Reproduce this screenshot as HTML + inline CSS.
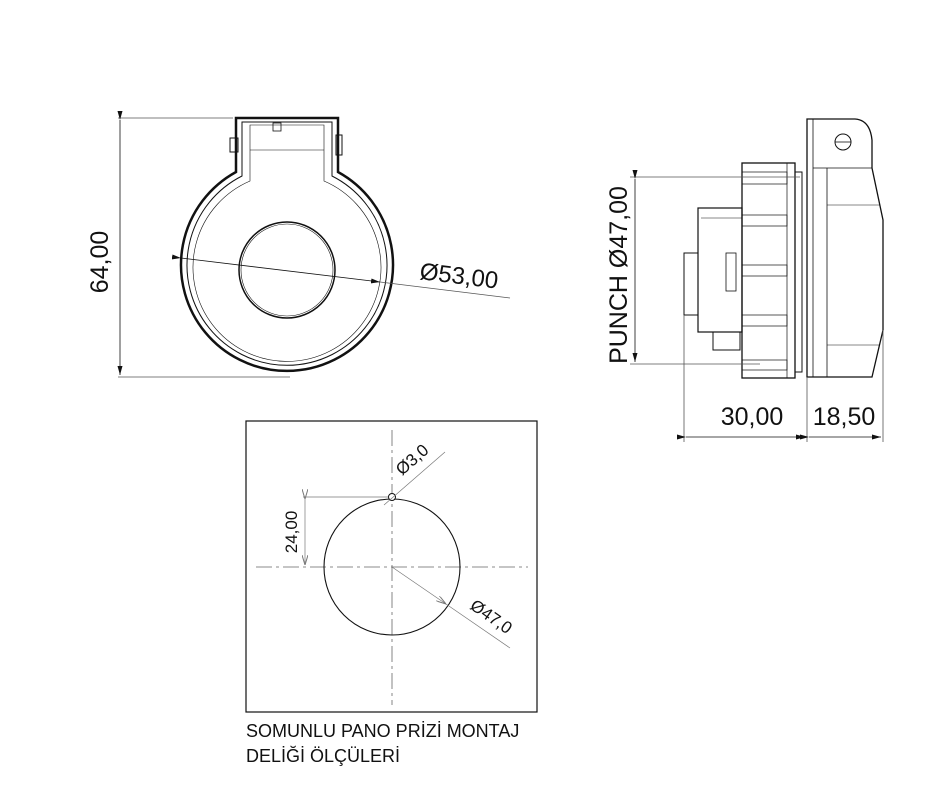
<!DOCTYPE html>
<html><head><meta charset="utf-8"><style>
html,body{margin:0;padding:0;background:#fff;}
svg{display:block;}
text{font-family:"Liberation Sans",sans-serif;fill:#111;}
</style></head><body>
<svg width="940" height="800" viewBox="0 0 940 800" xmlns="http://www.w3.org/2000/svg">
<defs>
<marker id="a" markerWidth="9" markerHeight="5" refX="9" refY="2.5" orient="auto" markerUnits="userSpaceOnUse"><path d="M0,0 L9,2.5 L0,5 Z" fill="#111"/></marker>
<marker id="ag" markerWidth="10" markerHeight="6" refX="10" refY="3" orient="auto" markerUnits="userSpaceOnUse"><path d="M0,0 L10,3 L0,6" fill="none" stroke="#777"/></marker>
</defs>
<g fill="none" stroke="#111">
<line x1="118" y1="118" x2="233" y2="118" stroke="#555" stroke-width="0.8"/>
<line x1="118" y1="377" x2="290" y2="377" stroke="#555" stroke-width="0.8"/>
<line x1="120" y1="120" x2="120" y2="375" stroke-width="0.8" marker-start="url(#a)" marker-end="url(#a)"/>
<path d="M236,172 L236,118 L338,118 L338,172 A106,106 0 1 1 236,172 Z" stroke-width="2.5"/>
<path d="M242,176 L242,122 L332,122 L332,176 A100,100 0 1 1 242,176 Z" stroke-width="1"/>
<path d="M250,181 L250,125 L324,125 L324,181 A94,94 0 1 1 250,181 Z" stroke-width="0.6"/>
<line x1="250" y1="150" x2="324" y2="150" stroke-width="0.6"/>
<rect x="230" y="138" width="8" height="14" stroke-width="1"/>
<rect x="336" y="135" width="6" height="20" stroke-width="1"/>
<rect x="273" y="123" width="8" height="8" stroke-width="0.8"/>
<circle cx="287" cy="270" r="48" stroke-width="1.5"/>
<circle cx="287" cy="270" r="46" stroke-width="0.6"/>
<line x1="181" y1="258" x2="380" y2="282" stroke-width="0.8" marker-start="url(#a)" marker-end="url(#a)"/>
<line x1="380" y1="282" x2="510" y2="298" stroke="#555" stroke-width="0.8"/>
<path d="M807,119 L855,119 Q870,120 872,140 L872,168 L883,220 L883,330 L872,377 L807,377 Z" stroke-width="1.3"/>
<line x1="813" y1="119" x2="813" y2="377" stroke-width="0.8"/>
<line x1="827" y1="168" x2="827" y2="377" stroke-width="0.8"/>
<line x1="813" y1="168" x2="872" y2="168" stroke-width="0.8"/>
<line x1="827" y1="205" x2="880" y2="205" stroke-width="0.5"/>
<line x1="827" y1="345" x2="880" y2="345" stroke-width="0.5"/>
<circle cx="843" cy="142" r="8" stroke-width="1"/>
<line x1="835" y1="142" x2="851" y2="142" stroke-width="0.8"/>
<path d="M795,172 L802,172 L802,372 L795,372" stroke-width="1"/>
<rect x="742" y="163" width="53" height="215" stroke-width="1.3"/>
<line x1="787" y1="163" x2="787" y2="378" stroke-width="0.7"/>
<rect x="742" y="172" width="45" height="12" stroke-width="0.7"/>
<rect x="742" y="215" width="45" height="11" stroke-width="0.7"/>
<rect x="742" y="265" width="45" height="11" stroke-width="0.7"/>
<rect x="742" y="315" width="45" height="11" stroke-width="0.7"/>
<rect x="742" y="360" width="45" height="10" stroke-width="0.7"/>
<rect x="698" y="208" width="44" height="124" stroke-width="1.2"/>
<line x1="701" y1="218" x2="742" y2="218" stroke-width="0.5"/>
<rect x="726" y="253" width="10" height="38" stroke-width="0.8"/>
<rect x="684" y="253" width="14" height="62" stroke-width="1"/>
<rect x="713" y="332" width="27" height="18" stroke-width="1"/>
<line x1="630" y1="177" x2="800" y2="177" stroke="#555" stroke-width="0.8"/>
<line x1="630" y1="364" x2="760" y2="364" stroke="#555" stroke-width="0.8"/>
<line x1="635" y1="179" x2="635" y2="362" stroke-width="0.8" marker-start="url(#a)" marker-end="url(#a)"/>
<line x1="684" y1="315" x2="684" y2="442" stroke="#555" stroke-width="0.8"/>
<line x1="807" y1="377" x2="807" y2="442" stroke="#555" stroke-width="0.8"/>
<line x1="883" y1="330" x2="883" y2="442" stroke="#555" stroke-width="0.8"/>
<line x1="686" y1="437" x2="805" y2="437" stroke-width="0.8" marker-start="url(#a)" marker-end="url(#a)"/>
<line x1="809" y1="437" x2="881" y2="437" stroke-width="0.8" marker-start="url(#a)" marker-end="url(#a)"/>
<rect x="246" y="421" width="291" height="291" stroke-width="1.2"/>
<line x1="256" y1="567" x2="528" y2="567" stroke="#666" stroke-width="0.8" stroke-dasharray="16,4,3,4"/>
<line x1="392" y1="430" x2="392" y2="705" stroke="#666" stroke-width="0.8" stroke-dasharray="16,4,3,4"/>
<circle cx="392" cy="567" r="68" stroke-width="1.1"/>
<circle cx="392" cy="497" r="3.5" stroke-width="1" fill="#fff"/>
<line x1="303" y1="497" x2="388" y2="497" stroke="#777" stroke-width="0.7"/>
<line x1="305" y1="499" x2="305" y2="565" stroke="#777" stroke-width="0.7" marker-start="url(#ag)" marker-end="url(#ag)"/>
<line x1="384" y1="505" x2="445" y2="452" stroke="#777" stroke-width="0.7"/>
<line x1="392" y1="567" x2="446" y2="604" stroke="#777" stroke-width="0.7" marker-end="url(#ag)"/>
<line x1="446" y1="604" x2="510" y2="648" stroke="#777" stroke-width="0.7"/>
</g>
<text x="0" y="0" font-size="25" transform="translate(108,262) rotate(-90)" text-anchor="middle">64,00</text>
<text x="0" y="0" font-size="24" transform="translate(419,279) rotate(7)">Ø53,00</text>
<text x="0" y="0" font-size="25" transform="translate(627,275) rotate(-90)" text-anchor="middle">PUNCH Ø47,00</text>
<text x="752" y="425" font-size="25" text-anchor="middle">30,00</text>
<text x="844" y="425" font-size="25" text-anchor="middle">18,50</text>
<text x="0" y="0" font-size="17" transform="translate(297,532) rotate(-90)" text-anchor="middle">24,00</text>
<text x="0" y="0" font-size="17" transform="translate(402,476) rotate(-41)">Ø3,0</text>
<text x="0" y="0" font-size="17" transform="translate(469,608) rotate(35)">Ø47,0</text>
<text x="246" y="737" font-size="18">SOMUNLU PANO PRİZİ MONTAJ</text>
<text x="246" y="762" font-size="18">DELİĞİ ÖLÇÜLERİ</text>
</svg>
</body></html>
